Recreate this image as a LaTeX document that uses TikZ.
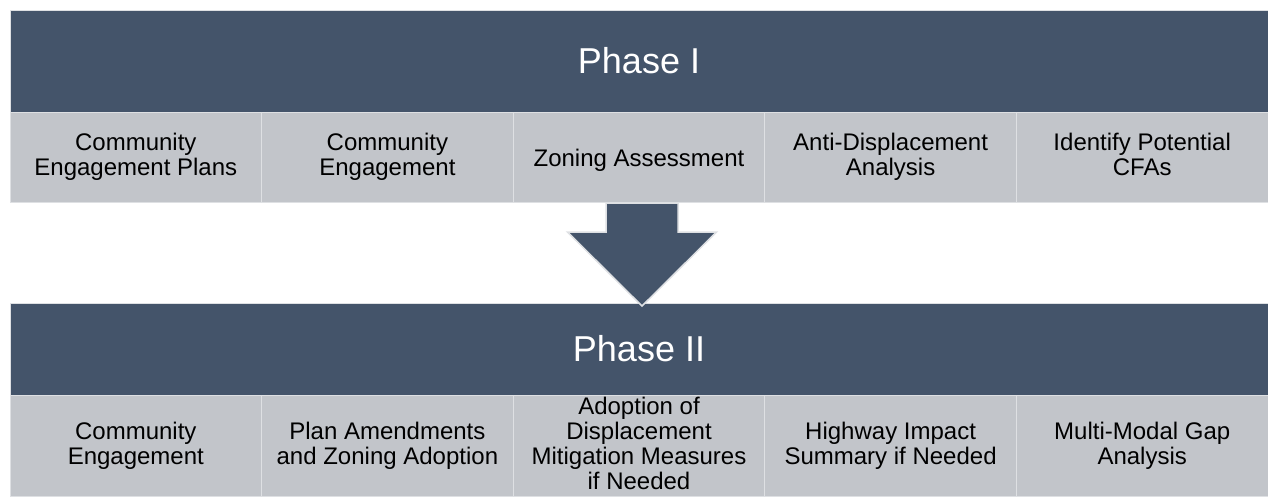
\documentclass[tikz,border=0pt]{standalone}
\usepackage{fontspec}
\setmainfont{Liberation Sans}
\usepackage{tikz}
\usetikzlibrary{positioning}
\usepackage{xcolor}
\definecolor{slate}{RGB}{68,84,106}
\definecolor{lightbox}{RGB}{194,197,202}
\definecolor{edge}{RGB}{222,224,227}

\begin{document}
\begin{tikzpicture}[x=1pt, y=1pt,
        every node/.style = {outer sep=0pt, inner sep=0pt, align=center},
        phase/.style = {fill=slate, draw=edge, line width=1pt, text=white, font=\fontsize{36}{40}\selectfont, minimum width=1258pt},
        task/.style = {fill=lightbox, draw=edge, line width=1pt, text=black, font=\fontsize{24}{25}\selectfont, minimum width=251.6pt,
                       execute at begin node=\rule{0pt}{23pt}, execute at end node=\vphantom{g}},
        downarrow/.style = {fill=slate, draw=edge, line width=1.5pt, line join=miter}
        ]
        \useasboundingbox (0,0) rectangle (1268,-496);
        \node (ph1) [phase, minimum height=102pt, anchor=north west] at (10,-10) {Phase I};
        \node (a1) [task, minimum height=90pt, below right=0pt and 0pt of ph1.south west] {Community\\Engagement Plans};
        \node (a2) [task, minimum height=90pt, right=0pt of a1] {Community\\Engagement};
        \node (a3) [task, minimum height=90pt, right=0pt of a2] {Zoning Assessment};
        \node (a4) [task, minimum height=90pt, right=0pt of a3] {Anti-Displacement\\Analysis};
        \node (a5) [task, minimum height=90pt, right=0pt of a4] {Identify Potential\\CFAs};
        \node (ph2) [phase, minimum height=92pt, below right=101pt and 0pt of a1.south west] {Phase II};
        \node (b1) [task, minimum height=101pt, below right=0pt and 0pt of ph2.south west] {Community\\Engagement};
        \node (b2) [task, minimum height=101pt, right=0pt of b1] {Plan Amendments\\and Zoning Adoption};
        \node (b3) [task, minimum height=101pt, right=0pt of b2] {Adoption of\\Displacement\\Mitigation Measures\\if Needed};
        \node (b4) [task, minimum height=101pt, right=0pt of b3] {Highway Impact\\Summary if Needed};
        \node (b5) [task, minimum height=101pt, right=0pt of b4] {Multi-Modal Gap\\Analysis};
        \draw[downarrow] (a3.south) ++(-33,-1) -- ++(0,-29) -- ++(-38.5,0) -- ++(74.5,-74)
            -- ++(74.5,74) -- ++(-38.5,0) -- ++(0,29) -- cycle;
\end{tikzpicture}
\end{document}
